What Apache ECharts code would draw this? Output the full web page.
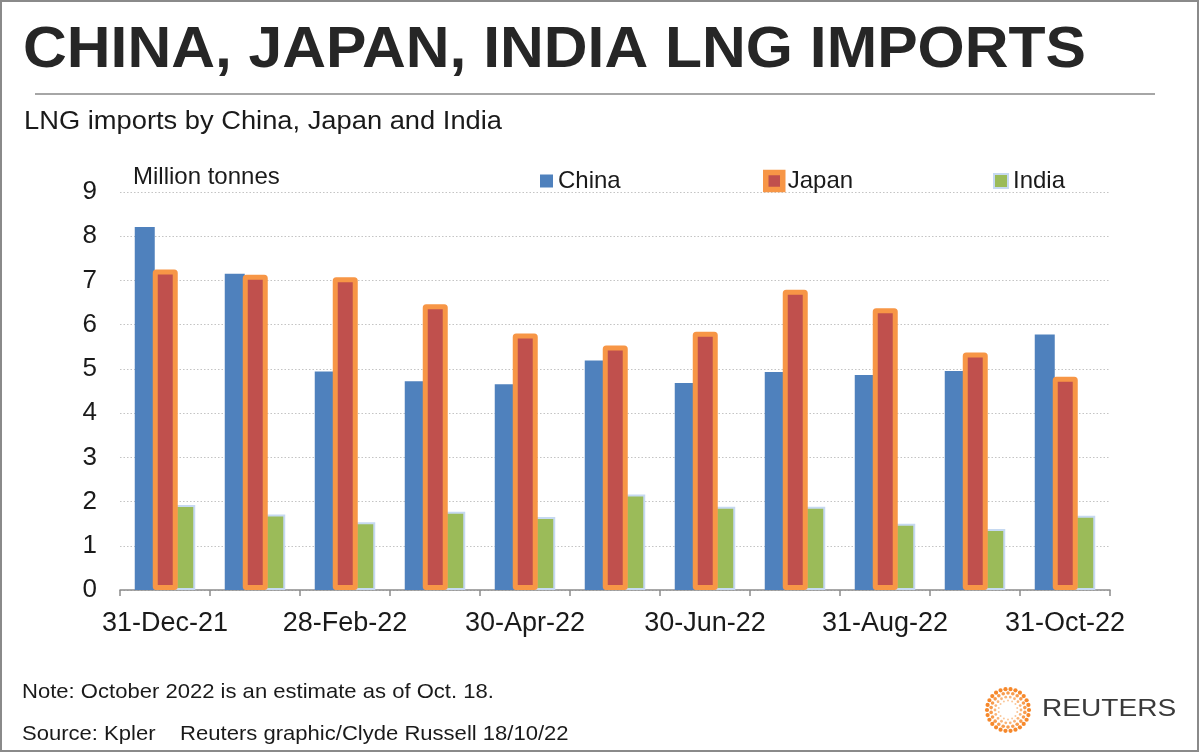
<!DOCTYPE html>
<html>
<head>
<meta charset="utf-8">
<title>China, Japan, India LNG imports</title>
<script src="https://cdn.jsdelivr.net/npm/echarts@6/dist/echarts.min.js"></script>
<style>
  html, body { margin: 0; padding: 0; background: #fff; }
  #chart { width: 1200px; height: 753px; }
</style>
</head>
<body>
<div id="chart"></div>
<script>
// month-end dates, Dec 2021 - Oct 2022 (Oct is an estimate)
const months = ['31-Dec-21', '31-Jan-22', '28-Feb-22', '31-Mar-22', '30-Apr-22', '31-May-22',
  '30-Jun-22', '31-Jul-22', '31-Aug-22', '30-Sep-22', '31-Oct-22'];
// million tonnes
const china = [8.21, 7.15, 4.94, 4.72, 4.65, 5.19, 4.68, 4.93, 4.86, 4.95, 5.78];
const japan = [7.25, 7.13, 7.07, 6.46, 5.80, 5.53, 5.84, 6.79, 6.37, 5.37, 4.82];
const india = [1.92, 1.71, 1.53, 1.77, 1.65, 2.16, 1.88, 1.88, 1.50, 1.38, 1.68];

const FONT = '"Liberation Sans", Arial, Helvetica, sans-serif';
const TEXT = '#1a1a1a';

const colors = {
  china: '#4F81BD',
  japan: '#C0504D',
  japanEdge: '#F79646',
  india: '#9BBB59',
  indiaEdge: '#C6D9F1',
};

const chart = echarts.init(document.getElementById('chart'), null, { renderer: 'canvas' });

// reuters logo: rings of small orange dots
const logoDots = [];
const rings = [[21, 26, 2.1, 0.95], [17, 22, 1.8, 0.8], [13, 18, 1.4, 0.6], [9.5, 14, 1.0, 0.45]];
rings.forEach(([r, n, s, o], k) => {
  for (let i = 0; i < n; i++) {
    const a = (i + k * 0.5) / n * Math.PI * 2;
    logoDots.push({
      type: 'circle',
      shape: { cx: 1008 + r * Math.cos(a), cy: 710 + r * Math.sin(a), r: s },
      style: { fill: '#F58220', opacity: o },
      silent: true,
    });
  }
});

function label(text, x, y, size, opts) {
  opts = opts || {};
  return {
    type: 'text',
    x: x,
    y: y,
    scaleX: opts.scaleX || 1,
    silent: true,
    style: {
      text: text,
      fontFamily: FONT,
      fontSize: size,
      fontWeight: opts.bold ? 'bold' : 'normal',
      fill: opts.color || TEXT,
      verticalAlign: 'middle',
      align: 'left',
    },
  };
}

function legendFor(name, left, itemStyle, size) {
  return {
    data: [name],
    left: left,
    top: 169,
    padding: 0,
    icon: 'rect',
    itemWidth: size,
    itemHeight: size,
    itemStyle: itemStyle,
    selectedMode: false,
    textStyle: { fontFamily: FONT, fontSize: 24, color: TEXT, lineHeight: 24 },
  };
}

const option = {
  animation: false,
  backgroundColor: '#fff',
  textStyle: { fontFamily: FONT },
  grid: { left: 120, right: 90, top: 192, bottom: 163, containLabel: false },
  legend: [
    legendFor('China', 540, { color: colors.china, borderWidth: 0 }, 13),
    legendFor('Japan', 763, { color: colors.japan, borderColor: colors.japanEdge, borderWidth: 5.5 }, 17),
    legendFor('India', 993, { color: colors.india, borderColor: colors.indiaEdge, borderWidth: 2 }, 14),
  ],
  xAxis: {
    type: 'category',
    data: months,
    boundaryGap: true,
    axisLine: { lineStyle: { color: '#8c8c8c', width: 1.5 } },
    axisTick: { show: true, interval: 0, length: 6, lineStyle: { color: '#8c8c8c', width: 1.5 } },
    axisLabel: { interval: 1, fontSize: 27, color: TEXT, margin: 20, fontFamily: FONT },
  },
  yAxis: {
    type: 'value',
    min: 0,
    max: 9,
    interval: 1,
    axisLine: { show: false },
    axisTick: { show: false },
    axisLabel: { fontSize: 26, color: TEXT, margin: 23, fontFamily: FONT },
    splitLine: { lineStyle: { type: [1.5, 2], color: '#c4c4c4', width: 1.2 } },
  },
  series: [
    {
      name: 'China', type: 'bar', data: china, barWidth: 20, barGap: '-10%',
      itemStyle: { color: colors.china },
    },
    {
      name: 'Japan', type: 'bar', data: japan, barWidth: 25, barGap: '-10%', z: 3,
      itemStyle: { color: colors.japan, borderColor: colors.japanEdge, borderWidth: 5, borderRadius: 1 },
    },
    {
      name: 'India', type: 'bar', data: india, barWidth: 20, barGap: '-10%',
      itemStyle: { color: colors.india, borderColor: colors.indiaEdge, borderWidth: 2 },
    },
  ],
  graphic: [
    {
      type: 'rect', silent: true,
      shape: { x: 1, y: 1, width: 1197, height: 750 },
      style: { fill: 'none', stroke: '#8a8a8a', lineWidth: 2 },
    },
    label('CHINA, JAPAN, INDIA LNG IMPORTS', 23, 51, 58, { bold: true, color: '#262626', scaleX: 1.045 }),
    {
      type: 'line', silent: true,
      shape: { x1: 35, y1: 94, x2: 1155, y2: 94 },
      style: { stroke: '#a6a6a6', lineWidth: 2 },
    },
    label('LNG imports by China, Japan and India', 24, 122, 26, { scaleX: 1.05 }),
    label('Million tonnes', 133, 177, 24),
    label('Note: October 2022 is an estimate as of Oct. 18.', 22, 692, 21, { scaleX: 1.05 }),
    label('Source: Kpler    Reuters graphic/Clyde Russell 18/10/22', 22, 734, 21, { scaleX: 1.05 }),
    label('REUTERS', 1042, 709, 24, { color: '#3a3a3a', scaleX: 1.17 }),
  ].concat(logoDots),
};

chart.setOption(option);
window.addEventListener('resize', () => chart.resize());
</script>
</body>
</html>
